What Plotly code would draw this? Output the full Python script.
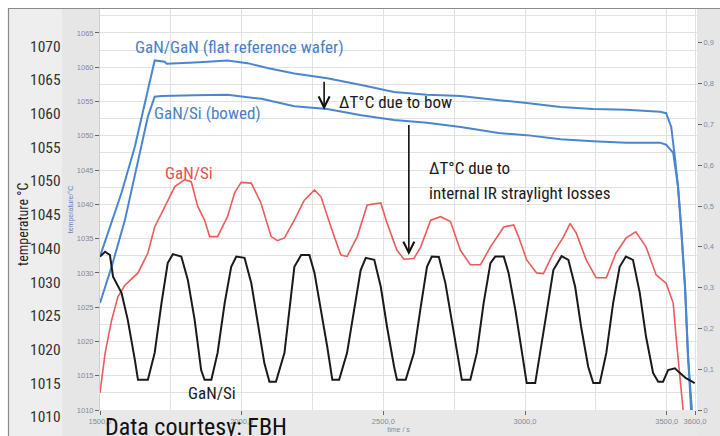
import plotly.graph_objects as go

# ---------------- data ----------------
time_gan_gan = [1500, 1528, 1576, 1623, 1658, 1676, 1693, 1729, 1735, 1834, 1950, 2021, 2091, 2186, 2302,
                2422, 2538, 2654, 2773, 2907, 3006, 3125, 3241, 3357, 3477, 3498, 3516, 3530, 3540, 3551,
                3565, 3575, 3586]
temp_gan_gan = [1032.4, 1035.8, 1041.7, 1048.4, 1054.8, 1058.1, 1061.0, 1060.8, 1060.5, 1060.7, 1061.0,
                1060.6, 1059.9, 1059.1, 1058.4, 1057.4, 1056.4, 1056.0, 1055.8, 1055.2, 1054.8, 1054.2,
                1053.9, 1053.8, 1053.5, 1053.3, 1051.3, 1046.5, 1042.6, 1036.7, 1028.0, 1018.3, 1010.0]

time_gan_si_bowed = [1500, 1541, 1588, 1634, 1669, 1693, 1717, 1834, 1950, 2070, 2186, 2302, 2422, 2538,
                     2654, 2773, 2907, 3006, 3125, 3241, 3357, 3477, 3498, 3523, 3530, 3540, 3551, 3565,
                     3575, 3589]
temp_gan_si_bowed = [1025.6, 1030.9, 1037.7, 1046.5, 1052.8, 1055.7, 1055.8, 1055.9, 1056.0, 1055.4,
                     1054.3, 1053.9, 1053.0, 1052.3, 1051.9, 1051.3, 1050.4, 1050.1, 1049.5, 1049.2,
                     1049.0, 1049.0, 1048.7, 1047.5, 1045.5, 1042.6, 1036.5, 1027.5, 1017.9, 1010.0]

time_gan_si = [1500, 1518, 1541, 1563, 1588, 1634, 1669, 1693, 1717, 1764, 1799, 1822, 1845, 1869, 1887,
               1915, 1950, 1975, 1998, 2034, 2068, 2104, 2126, 2151, 2186, 2221, 2257, 2280, 2315, 2350,
               2372, 2408, 2443, 2491, 2513, 2548, 2573, 2608, 2632, 2667, 2702, 2737, 2772, 2807, 2843,
               2878, 2925, 2960, 2977, 3006, 3041, 3065, 3100, 3136, 3159, 3181, 3216, 3251, 3287, 3321,
               3357, 3391, 3427, 3463, 3498, 3523, 3533, 3547, 3558]
temp_gan_si = [1012.5, 1018.3, 1023.1, 1026.5, 1028.2, 1030.0, 1032.9, 1036.7, 1038.7, 1042.6, 1043.6,
               1043.3, 1039.7, 1037.7, 1035.3, 1035.3, 1038.2, 1041.7, 1043.2, 1043.1, 1040.2, 1035.3,
               1034.7, 1035.1, 1037.7, 1040.6, 1042.1, 1041.1, 1036.7, 1032.6, 1032.4, 1035.3, 1039.9,
               1040.2, 1037.3, 1033.3, 1032.0, 1032.1, 1033.8, 1037.7, 1038.2, 1037.5, 1033.3, 1031.2,
               1031.2, 1033.8, 1036.7, 1037.0, 1035.3, 1031.9, 1030.0, 1029.9, 1032.9, 1035.3, 1037.2,
               1035.8, 1031.9, 1029.3, 1029.3, 1032.9, 1035.1, 1036.0, 1033.8, 1029.7, 1028.5, 1025.6,
               1020.7, 1014.9, 1010.0]

time_reflect = [1500, 1518, 1535, 1546, 1576, 1598, 1623, 1634, 1669, 1693, 1717, 1739, 1757, 1787, 1810,
                1834, 1857, 1869, 1893, 1915, 1940, 1963, 1981, 2010, 2034, 2056, 2080, 2098, 2121, 2151,
                2174, 2186, 2210, 2239, 2257, 2280, 2302, 2320, 2344, 2372, 2397, 2420, 2438, 2468, 2491,
                2513, 2538, 2548, 2579, 2608, 2632, 2654, 2671, 2696, 2719, 2741, 2766, 2777, 2807, 2830,
                2854, 2878, 2895, 2925, 2942, 2966, 2988, 3006, 3036, 3054, 3076, 3100, 3129, 3153, 3177,
                3198, 3223, 3241, 3264, 3287, 3311, 3334, 3356, 3381, 3405, 3427, 3452, 3470, 3487, 3505,
                3529, 3546, 3568, 3599]
reflect = [0.376, 0.388, 0.380, 0.327, 0.287, 0.221, 0.123, 0.074, 0.074, 0.140,
           0.262, 0.360, 0.382, 0.376, 0.319, 0.221, 0.098, 0.074, 0.074, 0.140,
           0.262, 0.351, 0.376, 0.373, 0.311, 0.221, 0.115, 0.069, 0.069, 0.140,
           0.278, 0.351, 0.380, 0.380, 0.336, 0.245, 0.155, 0.074, 0.074, 0.140,
           0.245, 0.343, 0.373, 0.368, 0.302, 0.204, 0.106, 0.074, 0.074, 0.140,
           0.253, 0.351, 0.376, 0.375, 0.311, 0.221, 0.123, 0.074, 0.074, 0.140,
           0.262, 0.360, 0.376, 0.376, 0.336, 0.245, 0.147, 0.066, 0.066, 0.140,
           0.238, 0.343, 0.377, 0.368, 0.302, 0.204, 0.106, 0.066, 0.066, 0.140,
           0.262, 0.351, 0.376, 0.368, 0.287, 0.180, 0.091, 0.069, 0.069, 0.098,
           0.102, 0.091, 0.078, 0.066]

x_tick_vals = [1500, 2000, 2500, 3000, 3500, 3600]
x_tick_text = ["1500,0", "2000,0", "2500,0", "3000,0", "3500,0", "3600,0"]
y2_tick_vals = [0, 0.1, 0.2, 0.3, 0.4, 0.5, 0.6, 0.7, 0.8, 0.9]
y2_tick_text = ["0", "0,1", "0,2", "0,3", "0,4", "0,5", "0,6", "0,7", "0,8", "0,9"]
outer_tick_text = ["1070", "1065", "1060", "1055", "1050", "1045", "1040", "1030", "1025", "1020",
                   "1015", "1010"]

# ---------------- layout helpers ----------------
W, H = 720, 436
L, R, T, B = 100, 23, 9, 26
PW, PH = W - L - R, H - T - B

def px(xpix):
    return (xpix - L) / PW

def py(ypix):
    return (H - B - ypix) / PH

NARROW = "Liberation Sans Narrow, Arial Narrow, Roboto Condensed, DejaVu Sans Condensed, sans-serif"
SMALL = "Liberation Sans, Arial, sans-serif"
BLUE = "#4a86cf"
RED = "#ef5b5b"
TICKC = "#7f8a9c"

fig = go.Figure()
fig.add_trace(go.Scatter(x=time_gan_gan, y=temp_gan_gan, mode="lines",
                         line=dict(color=BLUE, width=2), name="GaN/GaN"))
fig.add_trace(go.Scatter(x=time_gan_si_bowed, y=temp_gan_si_bowed, mode="lines",
                         line=dict(color=BLUE, width=2), name="GaN/Si (bowed)"))
fig.add_trace(go.Scatter(x=time_gan_si, y=temp_gan_si, mode="lines",
                         line=dict(color=RED, width=1.6), name="GaN/Si"))
fig.add_trace(go.Scatter(x=time_reflect, y=reflect, mode="lines", yaxis="y2",
                         line=dict(color="#1a1a1a", width=2), name="GaN/Si reflect"))

shapes = [
    dict(type="rect", xref="paper", yref="paper", x0=px(8), x1=px(62), y0=py(436), y1=py(8),
         fillcolor="#efeeee", line_width=0, layer="below"),
    dict(type="rect", xref="paper", yref="paper", x0=px(62), x1=px(100), y0=py(436), y1=py(8),
         fillcolor="#e6e6e6", line_width=0, layer="below"),
    dict(type="rect", xref="paper", yref="paper", x0=px(100), x1=px(697), y0=py(436), y1=py(410),
         fillcolor="#e8e8e8", line_width=0, layer="below"),
    dict(type="rect", xref="paper", yref="paper", x0=px(697), x1=px(720), y0=py(436), y1=py(8),
         fillcolor="#e6e6e6", line_width=0, layer="below"),
    dict(type="line", xref="paper", yref="paper", x0=px(8), x1=px(720), y0=py(8.5), y1=py(8.5),
         line=dict(color="#8a8a8a", width=1.2)),
    dict(type="line", xref="paper", yref="paper", x0=px(8.5), x1=px(8.5), y0=py(8), y1=py(436),
         line=dict(color="#8a8a8a", width=1.2)),
]

annotations = []
for i, lab in enumerate(outer_tick_text):
    annotations.append(dict(xref="paper", yref="paper", x=px(63), y=py(46.7 + 33.69 * i),
                            text=lab, showarrow=False, xanchor="right", yanchor="middle",
                            font=dict(family=NARROW, size=15.5, color="#333333")))
annotations.append(dict(xref="paper", yref="paper", x=px(23), y=py(225), text="temperature °C",
                        textangle=-90, showarrow=False, xanchor="center", yanchor="middle",
                        font=dict(family=NARROW, size=14, color="#222222")))

def txt(x, y, s, color, size=17):
    return dict(xref="x", yref="y", x=x, y=y, text=s, showarrow=False, xanchor="left",
                yanchor="middle", font=dict(family=NARROW, size=size, color=color))

annotations += [
    txt(1616, 1062.95, "GaN/GaN (flat reference wafer)", "#4a80c8"),
    txt(1683, 1053.3, "GaN/Si (bowed)", "#4a80c8"),
    txt(2337, 1054.9, "ΔT°C due to bow", "#1a1a1a"),
    txt(2655, 1045.3, "ΔT°C due to", "#1a1a1a"),
    txt(2655, 1041.7, "internal IR straylight losses", "#1a1a1a"),
    txt(1722, 1044.6, "GaN/Si", "#e8504f"),
    txt(1805, 1012.5, "GaN/Si", "#1a1a1a"),
]
annotations += [
    dict(xref="x", yref="y", axref="x", ayref="y", x=2291, y=1053.8, ax=2291, ay=1058.1, text="",
         showarrow=True, arrowhead=5, arrowsize=1.35, arrowwidth=1.6, arrowcolor="#111111", standoff=0),
    dict(xref="x", yref="y", axref="x", ayref="y", x=2590, y=1032.6, ax=2590, ay=1051.8, text="",
         showarrow=True, arrowhead=5, arrowsize=1.35, arrowwidth=1.6, arrowcolor="#111111", standoff=0),
]
annotations.append(dict(xref="paper", yref="paper", x=px(103), y=py(411), text="Data courtesy: FBH",
                        showarrow=False, xanchor="left", yanchor="top",
                        font=dict(family=NARROW, size=24, color="#111111")))

fig.update_layout(
    width=W, height=H,
    margin=dict(l=L, r=R, t=T, b=B, pad=0, autoexpand=False),
    paper_bgcolor="#ffffff", plot_bgcolor="#ffffff",
    showlegend=False,
    shapes=shapes, annotations=annotations,
    xaxis=dict(range=[1500, 3607], tickvals=x_tick_vals, ticktext=x_tick_text, automargin=False,
               ticks="outside", ticklen=4, tickcolor="#666666", tickwidth=1,
               tickfont=dict(family=SMALL, size=7.5, color=TICKC),
               showgrid=True, gridcolor="#e1e1e1", gridwidth=1.3, zeroline=False,
               minor=dict(dtick=250, tick0=1500, showgrid=True, gridcolor="#e1e1e1", gridwidth=1.3,
                          ticks=""),
               title=dict(text="time / s", font=dict(family=SMALL, size=7, color=TICKC), standoff=1),
               showline=False),
    yaxis=dict(range=[1010, 1068.5], dtick=5, tick0=1010, tickformat="d", automargin=False,
               ticks="outside", ticklen=4, tickcolor="#666666", tickwidth=1,
               tickfont=dict(family=SMALL, size=7.5, color=TICKC),
               showgrid=True, gridcolor="#e1e1e1", gridwidth=1.3, zeroline=False,
               minor=dict(dtick=2.5, showgrid=True, gridcolor="#e1e1e1", gridwidth=1.3, ticks=""),
               title=dict(text="temperature/°C", font=dict(family=SMALL, size=7, color="#5b82c8"),
                          standoff=2),
               showline=True, linecolor="#cfcfcf", linewidth=1),
    yaxis2=dict(range=[0, 0.9829], overlaying="y", side="right", tickvals=y2_tick_vals,
                ticktext=y2_tick_text, ticks="outside", ticklen=4, tickcolor="#666666", tickwidth=1,
                automargin=False,
                tickfont=dict(family=SMALL, size=7.5, color=TICKC), showgrid=False, zeroline=False),
)

fig.write_html("out.html")
